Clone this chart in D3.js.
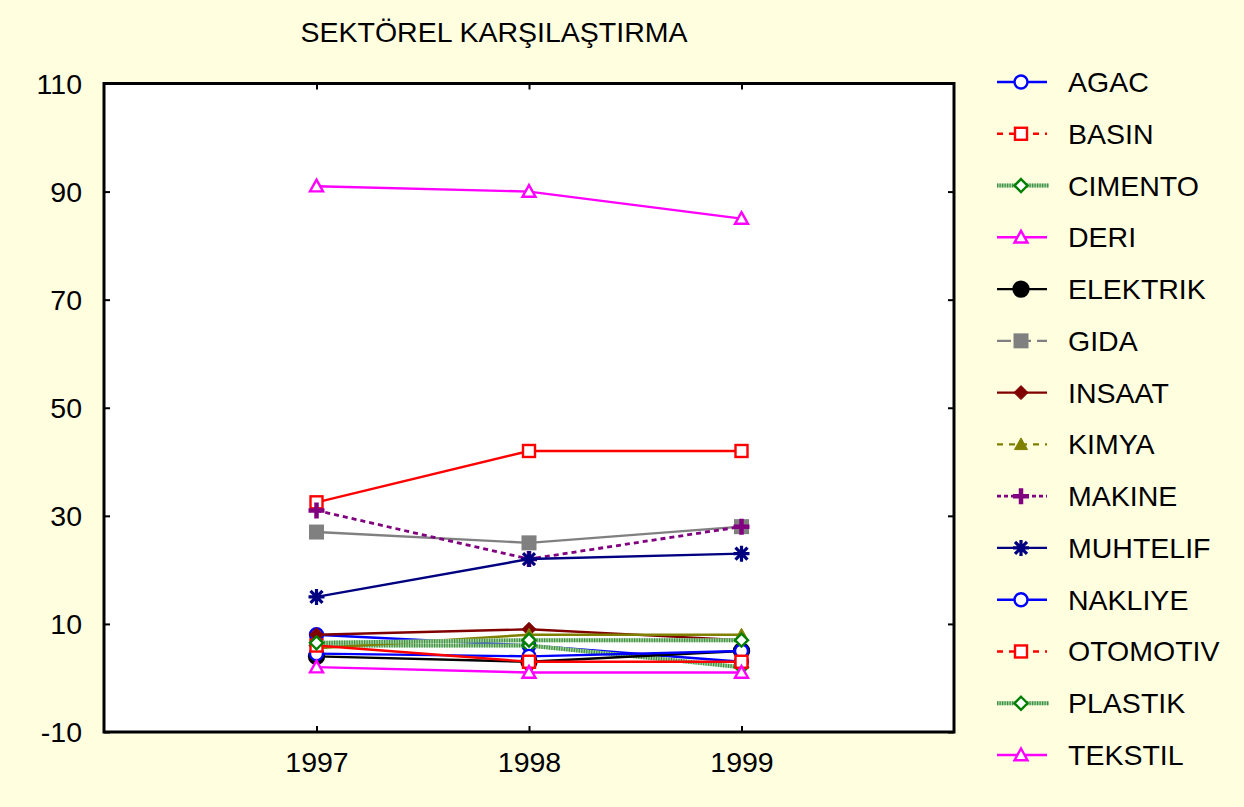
<!DOCTYPE html>
<html><head><meta charset="utf-8">
<script src="https://cdn.jsdelivr.net/npm/d3@7"></script>
<style>
html,body{margin:0;padding:0;background:#FFFFE0;}
svg{display:block;font-family:"Liberation Sans",Arial,sans-serif;}
</style></head>
<body>
<svg id="chart" width="1244" height="807"></svg>
<script>
const title = "SEKTÖREL KARŞILAŞTIRMA";
const years = [1997, 1998, 1999];
const yTicks = [-10, 10, 30, 50, 70, 90, 110];
const seriesNames = ["AGAC","BASIN","CIMENTO","DERI","ELEKTRIK","GIDA","INSAAT","KIMYA","MAKINE","MUHTELIF","NAKLIYE","OTOMOTIV","PLASTIK","TEKSTIL"];
const AGAC     = [8, 6, 3];
const BASIN    = [32.5, 42, 42];
const CIMENTO  = [6, 6, 2];
const DERI     = [91, 90, 85];
const ELEKTRIK = [4, 3, 5];
const GIDA     = [27, 25, 28];
const INSAAT   = [8, 9, 7];
const KIMYA    = [5.5, 8, 8];
const MAKINE   = [31, 22, 28];
const MUHTELIF = [15, 22, 23];
const NAKLIYE  = [4.5, 4, 5];
const OTOMOTIV = [6, 3, 3];
const PLASTIK  = [6.5, 7, 7];
const TEKSTIL  = [2, 1, 1];
const seriesValues = [AGAC,BASIN,CIMENTO,DERI,ELEKTRIK,GIDA,INSAAT,KIMYA,MAKINE,MUHTELIF,NAKLIYE,OTOMOTIV,PLASTIK,TEKSTIL];

const styles = {
  AGAC:     {color:"#0000FF", dash:null,   pdash:null,  w:2.4, sym:"circle",   fill:false},
  BASIN:    {color:"#FF0000", dash:"6,6",  pdash:null,  w:2.4, sym:"square",   fill:false},
  CIMENTO:  {color:"#008000", dash:null,   pdash:null,  w:2.4, sym:"diamond",  fill:false, tex:true},
  DERI:     {color:"#FF00FF", dash:null,   pdash:null,  w:2.4, sym:"triangle", fill:false},
  ELEKTRIK: {color:"#000000", dash:null,   pdash:null,  w:2.4, sym:"circle",   fill:true},
  GIDA:     {color:"#808080", dash:"14,6", pdash:null,  w:2.4, sym:"square",   fill:true},
  INSAAT:   {color:"#800000", dash:null,   pdash:null,  w:2.4, sym:"diamond",  fill:true},
  KIMYA:    {color:"#808000", dash:"6,6",  pdash:null,  w:2.4, sym:"triangle", fill:true},
  MAKINE:   {color:"#800080", dash:"4,3",  pdash:"5,4", w:2.8, sym:"plus",     fill:true},
  MUHTELIF: {color:"#000080", dash:null,   pdash:null,  w:2.4, sym:"asterisk", fill:true},
  NAKLIYE:  {color:"#0000FF", dash:null,   pdash:null,  w:2.4, sym:"circle",   fill:false},
  OTOMOTIV: {color:"#FF0000", dash:"6,6",  pdash:null,  w:2.4, sym:"square",   fill:false},
  PLASTIK:  {color:"#008000", dash:null,   pdash:null,  w:2.4, sym:"diamond",  fill:false, tex:true},
  TEKSTIL:  {color:"#FF00FF", dash:null,   pdash:null,  w:2.4, sym:"triangle", fill:false}
};

const FS = 28.5;
const svg = d3.select("#chart");
const L = 104, R = 954, T = 83.5, B = 732;
const x = d3.scaleLinear().domain([1996, 2000]).range([L, R]);
const y = d3.scaleLinear().domain([-10, 110]).range([B, T]);

svg.append("rect").attr("width",1244).attr("height",807).attr("fill","#FFFFE0");
svg.append("rect").attr("x",L).attr("y",T).attr("width",R-L).attr("height",B-T).attr("fill","#FFFFFF");

svg.append("text").attr("x",494).attr("y",42).attr("text-anchor","middle")
  .attr("font-size",FS).attr("fill","#000").text(title);

const gL = svg.append("g").attr("transform",`translate(${L},0)`)
  .call(d3.axisLeft(y).tickValues(yTicks).tickSize(-6).tickPadding(22).tickFormat(d=>String(d)));
const gR = svg.append("g").attr("transform",`translate(${R},0)`)
  .call(d3.axisRight(y).tickValues(yTicks).tickSize(-6).tickFormat(""));
const gB = svg.append("g").attr("transform",`translate(0,${B})`)
  .call(d3.axisBottom(x).tickValues(years).tickSize(-6).tickPadding(20).tickFormat(d=>String(d)));
const gT = svg.append("g").attr("transform",`translate(0,${T})`)
  .call(d3.axisTop(x).tickValues(years).tickSize(-6).tickFormat(""));
[gL,gR,gB,gT].forEach(g=>{
  g.select(".domain").remove();
  g.selectAll(".tick line").attr("stroke","#000").attr("stroke-width",2);
  g.selectAll("text").attr("font-size",FS).attr("fill","#000").attr("font-family","Liberation Sans, Arial, sans-serif");
});
gL.selectAll("text").attr("dy","0.35em");
svg.append("rect").attr("x",L).attr("y",T).attr("width",R-L).attr("height",B-T)
  .attr("fill","none").attr("stroke","#000").attr("stroke-width",3);

function drawSymbol(g, sym, cx, cy, st){
  const mc = st.color;
  const fill = st.fill ? mc : "#FFFFFF";
  if(sym==="circle"){
    g.append("circle").attr("cx",cx).attr("cy",cy).attr("r",st.fill?7.5:6.5)
      .attr("fill",fill).attr("stroke",mc).attr("stroke-width",2.4);
  } else if(sym==="square"){
    const s = st.fill?15:12;
    g.append("rect").attr("x",cx-s/2).attr("y",cy-s/2).attr("width",s).attr("height",s)
      .attr("fill",fill).attr("stroke",mc).attr("stroke-width",st.fill?0:2.4);
  } else if(sym==="diamond"){
    const s = st.fill?7:6.5;
    g.append("path").attr("d",`M${cx},${cy-s}L${cx+s},${cy}L${cx},${cy+s}L${cx-s},${cy}Z`)
      .attr("fill",fill).attr("stroke",mc).attr("stroke-width",st.fill?1:2.4);
  } else if(sym==="triangle"){
    const s = 6.5;
    g.append("path").attr("d",`M${cx},${cy-s}L${cx+s},${cy+s*0.8}L${cx-s},${cy+s*0.8}Z`)
      .attr("fill",fill).attr("stroke",mc).attr("stroke-width",st.fill?1:2.4);
  } else if(sym==="plus"){
    g.append("path").attr("d",`M${cx-8},${cy}H${cx+8}M${cx},${cy-8}V${cy+8}`)
      .attr("stroke",mc).attr("stroke-width",4.5);
  } else if(sym==="asterisk"){
    g.append("path").attr("d",`M${cx-8},${cy}H${cx+8}M${cx},${cy-8}V${cy+8}M${cx-6},${cy-6}L${cx+6},${cy+6}M${cx-6},${cy+6}L${cx+6},${cy-6}`)
      .attr("stroke",mc).attr("stroke-width",3.2);
  }
}

function drawLine(g, d, st, dash){
  if(st.tex){
    g.append("path").attr("d",d).attr("fill","none").attr("stroke","#a6d3a6").attr("stroke-width",4);
    g.append("path").attr("d",d).attr("fill","none").attr("stroke","#3f8f3f").attr("stroke-width",4)
      .attr("stroke-dasharray","1.2,1.3");
  } else {
    g.append("path").attr("d",d).attr("fill","none")
      .attr("stroke", st.color).attr("stroke-width", st.w)
      .attr("stroke-dasharray", dash);
  }
}

const line = d3.line().x((d,i)=>x(years[i])).y(d=>y(d));
const plot = svg.append("g");
seriesNames.forEach((name, k)=>{
  const st = styles[name];
  const vals = seriesValues[k];
  drawLine(plot, line(vals), st, st.pdash);
  const g = plot.append("g");
  vals.forEach((v,i)=>drawSymbol(g, st.sym, x(years[i]), y(v), st));
});

const legY = d3.scaleLinear().domain([0, 13]).range([82, 755]);
const leg = svg.append("g");
seriesNames.forEach((name,k)=>{
  const st = styles[name];
  const cy = legY(k);
  drawLine(leg, `M997,${cy}H${st.tex?1049:1047}`, st, st.dash);
  drawSymbol(leg, st.sym, 1021, cy, st);
  leg.append("text").attr("x",1068).attr("y",cy).attr("dy","0.35em")
    .attr("font-size",FS).attr("fill","#000").text(name);
});
</script>
</body></html>
